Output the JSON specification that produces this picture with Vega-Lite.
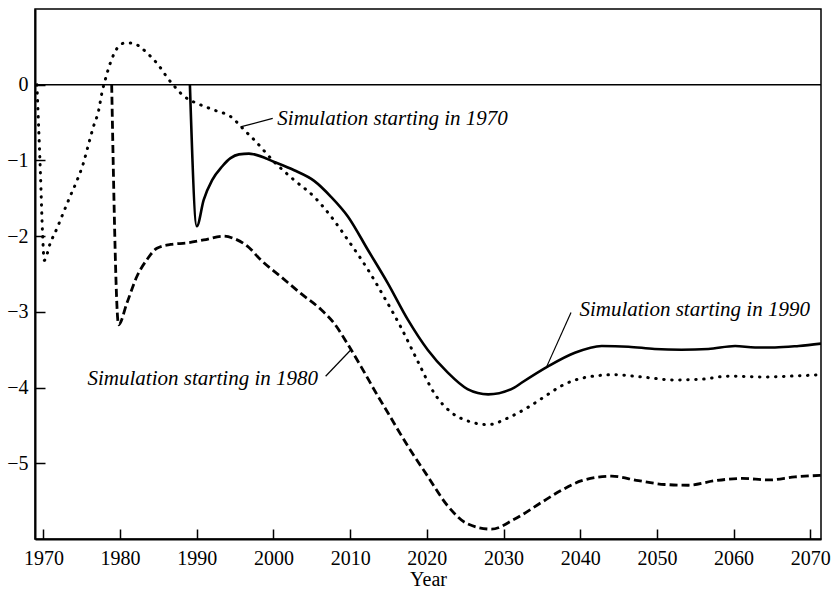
{
  "$schema": "https://vega.github.io/schema/vega-lite/v6.json",
  "width": 786,
  "height": 530,
  "autosize": {"type": "none"},
  "padding": {"left": 35, "top": 9, "right": 15, "bottom": 55},
  "background": "white",
  "config": {
    "view": {"stroke": "black", "strokeWidth": 1.5},
    "font": "Liberation Serif",
    "axis": {
      "grid": false,
      "domainColor": "black",
      "domainWidth": 2,
      "tickColor": "black",
      "tickWidth": 1.5,
      "tickSize": -10,
      "labelColor": "black",
      "labelFont": "Liberation Serif",
      "labelFontSize": 20,
      "titleFont": "Liberation Serif",
      "titleFontSize": 20,
      "titleFontWeight": "normal",
      "titleColor": "black"
    }
  },
  "datasets": {
    "curves": [
      {"year": 1969.15, "value": 0, "run": "1970"},
      {"year": 1969.6, "value": -1.15, "run": "1970"},
      {"year": 1969.9, "value": -2.0, "run": "1970"},
      {"year": 1970.1, "value": -2.32, "run": "1970"},
      {"year": 1970.9, "value": -2.09, "run": "1970"},
      {"year": 1971.75, "value": -1.9, "run": "1970"},
      {"year": 1972.6, "value": -1.69, "run": "1970"},
      {"year": 1973.5, "value": -1.47, "run": "1970"},
      {"year": 1974.4, "value": -1.26, "run": "1970"},
      {"year": 1975.2, "value": -1.04, "run": "1970"},
      {"year": 1975.9, "value": -0.78, "run": "1970"},
      {"year": 1976.5, "value": -0.56, "run": "1970"},
      {"year": 1977.2, "value": -0.34, "run": "1970"},
      {"year": 1977.6, "value": -0.12, "run": "1970"},
      {"year": 1978.1, "value": 0.08, "run": "1970"},
      {"year": 1978.7, "value": 0.28, "run": "1970"},
      {"year": 1979.6, "value": 0.48, "run": "1970"},
      {"year": 1980.6, "value": 0.55, "run": "1970"},
      {"year": 1981.6, "value": 0.55, "run": "1970"},
      {"year": 1982.6, "value": 0.5, "run": "1970"},
      {"year": 1983.5, "value": 0.42, "run": "1970"},
      {"year": 1984.4, "value": 0.33, "run": "1970"},
      {"year": 1985.5, "value": 0.19, "run": "1970"},
      {"year": 1986.1, "value": 0.1, "run": "1970"},
      {"year": 1986.9, "value": 0.0, "run": "1970"},
      {"year": 1988.3, "value": -0.15, "run": "1970"},
      {"year": 1990.1, "value": -0.25, "run": "1970"},
      {"year": 1991.1, "value": -0.29, "run": "1970"},
      {"year": 1992.4, "value": -0.34, "run": "1970"},
      {"year": 1994.4, "value": -0.42, "run": "1970"},
      {"year": 1996.4, "value": -0.62, "run": "1970"},
      {"year": 1997.5, "value": -0.73, "run": "1970"},
      {"year": 2000.1, "value": -1.02, "run": "1970"},
      {"year": 2002.7, "value": -1.26, "run": "1970"},
      {"year": 2005.3, "value": -1.48, "run": "1970"},
      {"year": 2007.5, "value": -1.74, "run": "1970"},
      {"year": 2009.7, "value": -2.05, "run": "1970"},
      {"year": 2012.3, "value": -2.44, "run": "1970"},
      {"year": 2014.4, "value": -2.8, "run": "1970"},
      {"year": 2016.6, "value": -3.2, "run": "1970"},
      {"year": 2018.8, "value": -3.65, "run": "1970"},
      {"year": 2021.0, "value": -4.08, "run": "1970"},
      {"year": 2023.2, "value": -4.33, "run": "1970"},
      {"year": 2025.3, "value": -4.44, "run": "1970"},
      {"year": 2028.0, "value": -4.49, "run": "1970"},
      {"year": 2030.6, "value": -4.4, "run": "1970"},
      {"year": 2033.2, "value": -4.26, "run": "1970"},
      {"year": 2035.8, "value": -4.09, "run": "1970"},
      {"year": 2037.5, "value": -3.98, "run": "1970"},
      {"year": 2041.0, "value": -3.86, "run": "1970"},
      {"year": 2044.5, "value": -3.83, "run": "1970"},
      {"year": 2048.0, "value": -3.86, "run": "1970"},
      {"year": 2052.4, "value": -3.9, "run": "1970"},
      {"year": 2055.8, "value": -3.89, "run": "1970"},
      {"year": 2059.3, "value": -3.85, "run": "1970"},
      {"year": 2063.7, "value": -3.86, "run": "1970"},
      {"year": 2067.2, "value": -3.85, "run": "1970"},
      {"year": 2071.4, "value": -3.83, "run": "1970"},

      {"year": 1978.9, "value": 0, "run": "1980"},
      {"year": 1979.8, "value": -3.17, "run": "1980"},
      {"year": 1980.9, "value": -2.88, "run": "1980"},
      {"year": 1982.2, "value": -2.53, "run": "1980"},
      {"year": 1983.5, "value": -2.31, "run": "1980"},
      {"year": 1984.8, "value": -2.16, "run": "1980"},
      {"year": 1986.6, "value": -2.11, "run": "1980"},
      {"year": 1988.7, "value": -2.09, "run": "1980"},
      {"year": 1990.9, "value": -2.05, "run": "1980"},
      {"year": 1993.5, "value": -2.0, "run": "1980"},
      {"year": 1994.8, "value": -2.03, "run": "1980"},
      {"year": 1996.8, "value": -2.15, "run": "1980"},
      {"year": 1998.3, "value": -2.31, "run": "1980"},
      {"year": 2000.9, "value": -2.53, "run": "1980"},
      {"year": 2003.6, "value": -2.76, "run": "1980"},
      {"year": 2006.2, "value": -2.97, "run": "1980"},
      {"year": 2007.9, "value": -3.15, "run": "1980"},
      {"year": 2009.7, "value": -3.43, "run": "1980"},
      {"year": 2011.4, "value": -3.72, "run": "1980"},
      {"year": 2013.6, "value": -4.11, "run": "1980"},
      {"year": 2014.9, "value": -4.33, "run": "1980"},
      {"year": 2017.5, "value": -4.77, "run": "1980"},
      {"year": 2020.1, "value": -5.17, "run": "1980"},
      {"year": 2022.7, "value": -5.56, "run": "1980"},
      {"year": 2025.3, "value": -5.8, "run": "1980"},
      {"year": 2028.4, "value": -5.87, "run": "1980"},
      {"year": 2031.4, "value": -5.74, "run": "1980"},
      {"year": 2034.9, "value": -5.52, "run": "1980"},
      {"year": 2037.5, "value": -5.36, "run": "1980"},
      {"year": 2040.2, "value": -5.23, "run": "1980"},
      {"year": 2044.1, "value": -5.17, "run": "1980"},
      {"year": 2047.6, "value": -5.23, "run": "1980"},
      {"year": 2051.0, "value": -5.28, "run": "1980"},
      {"year": 2054.1, "value": -5.29, "run": "1980"},
      {"year": 2057.6, "value": -5.23, "run": "1980"},
      {"year": 2061.1, "value": -5.2, "run": "1980"},
      {"year": 2064.6, "value": -5.22, "run": "1980"},
      {"year": 2068.0, "value": -5.18, "run": "1980"},
      {"year": 2071.4, "value": -5.16, "run": "1980"},

      {"year": 1989.1, "value": 0, "run": "1990"},
      {"year": 1990.0, "value": -1.87, "run": "1990"},
      {"year": 1990.9, "value": -1.52, "run": "1990"},
      {"year": 1992.0, "value": -1.26, "run": "1990"},
      {"year": 1993.3, "value": -1.08, "run": "1990"},
      {"year": 1994.4, "value": -0.97, "run": "1990"},
      {"year": 1995.5, "value": -0.92, "run": "1990"},
      {"year": 1996.8, "value": -0.91, "run": "1990"},
      {"year": 1997.5, "value": -0.92, "run": "1990"},
      {"year": 2000.1, "value": -1.02, "run": "1990"},
      {"year": 2002.7, "value": -1.13, "run": "1990"},
      {"year": 2005.3, "value": -1.27, "run": "1990"},
      {"year": 2007.5, "value": -1.48, "run": "1990"},
      {"year": 2009.7, "value": -1.74, "run": "1990"},
      {"year": 2012.3, "value": -2.18, "run": "1990"},
      {"year": 2014.9, "value": -2.62, "run": "1990"},
      {"year": 2017.5, "value": -3.1, "run": "1990"},
      {"year": 2020.1, "value": -3.5, "run": "1990"},
      {"year": 2022.7, "value": -3.8, "run": "1990"},
      {"year": 2025.3, "value": -4.02, "run": "1990"},
      {"year": 2028.0, "value": -4.09, "run": "1990"},
      {"year": 2031.4, "value": -4.0, "run": "1990"},
      {"year": 2032.3, "value": -3.94, "run": "1990"},
      {"year": 2035.8, "value": -3.72, "run": "1990"},
      {"year": 2039.3, "value": -3.54, "run": "1990"},
      {"year": 2042.8, "value": -3.45, "run": "1990"},
      {"year": 2046.3, "value": -3.46, "run": "1990"},
      {"year": 2049.7, "value": -3.49, "run": "1990"},
      {"year": 2053.2, "value": -3.5, "run": "1990"},
      {"year": 2056.7, "value": -3.49, "run": "1990"},
      {"year": 2060.2, "value": -3.45, "run": "1990"},
      {"year": 2062.8, "value": -3.47, "run": "1990"},
      {"year": 2065.4, "value": -3.47, "run": "1990"},
      {"year": 2068.5, "value": -3.45, "run": "1990"},
      {"year": 2071.4, "value": -3.42, "run": "1990"}
    ],
    "labels": [
      {"x": 2000.5, "y": -0.534, "text": "Simulation starting in 1970"},
      {"x": 1975.75, "y": -3.97, "text": "Simulation starting in 1980"},
      {"x": 2039.9, "y": -3.05, "text": "Simulation starting in 1990"}
    ],
    "leaders": [
      {"x": 1995.7, "y": -0.556, "x2": 1999.9, "y2": -0.445},
      {"x": 2006.8, "y": -3.85, "x2": 2010.1, "y2": -3.5},
      {"x": 2035.6, "y": -3.73, "x2": 2038.8, "y2": -3.01}
    ],
    "zero": [{"value": 0}]
  },
  "layer": [
    {
      "data": {"name": "zero"},
      "mark": {"type": "rule", "color": "black", "strokeWidth": 1.5},
      "encoding": {
        "y": {"field": "value", "type": "quantitative", "scale": {"domain": [-6, 1], "nice": false, "zero": false}}
      }
    },
    {
      "data": {"name": "curves"},
      "transform": [{"filter": "datum.run === '1970'"}],
      "mark": {"type": "line", "color": "black", "strokeWidth": 3, "strokeCap": "round", "strokeDash": [0.5, 7.5], "interpolate": "monotone", "clip": true},
      "encoding": {
        "x": {
          "field": "year", "type": "quantitative", "title": "Year",
          "scale": {"domain": [1968.9, 2071.4], "nice": false, "zero": false},
          "axis": {"values": [1970, 1980, 1990, 2000, 2010, 2020, 2030, 2040, 2050, 2060, 2070], "format": "d", "labelFontSize": 20, "titleFontSize": 20, "labelPadding": 19, "titlePadding": 1, "labelFlush": false}
        },
        "y": {
          "field": "value", "type": "quantitative", "title": null,
          "scale": {"domain": [-6, 1], "nice": false, "zero": false},
          "axis": {"values": [-5, -4, -3, -2, -1, 0], "format": "d", "labelFontSize": 20, "labelPadding": 17, "labelFlush": false}
        }
      }
    },
    {
      "data": {"name": "curves"},
      "transform": [{"filter": "datum.run === '1980'"}],
      "mark": {"type": "line", "color": "black", "strokeWidth": 2.8, "strokeDash": [8, 4], "interpolate": "monotone", "clip": true},
      "encoding": {
        "x": {"field": "year", "type": "quantitative"},
        "y": {"field": "value", "type": "quantitative"}
      }
    },
    {
      "data": {"name": "curves"},
      "transform": [{"filter": "datum.run === '1990'"}],
      "mark": {"type": "line", "color": "black", "strokeWidth": 2.6, "interpolate": "monotone", "clip": true},
      "encoding": {
        "x": {"field": "year", "type": "quantitative"},
        "y": {"field": "value", "type": "quantitative"}
      }
    },
    {
      "data": {"name": "leaders"},
      "mark": {"type": "rule", "color": "black", "strokeWidth": 1.2},
      "encoding": {
        "x": {"field": "x", "type": "quantitative"},
        "y": {"field": "y", "type": "quantitative"},
        "x2": {"field": "x2"},
        "y2": {"field": "y2"}
      }
    },
    {
      "data": {"name": "labels"},
      "mark": {"type": "text", "align": "left", "baseline": "alphabetic", "font": "Liberation Serif", "fontStyle": "italic", "fontSize": 21, "color": "black"},
      "encoding": {
        "x": {"field": "x", "type": "quantitative"},
        "y": {"field": "y", "type": "quantitative"},
        "text": {"field": "text"}
      }
    }
  ]
}
